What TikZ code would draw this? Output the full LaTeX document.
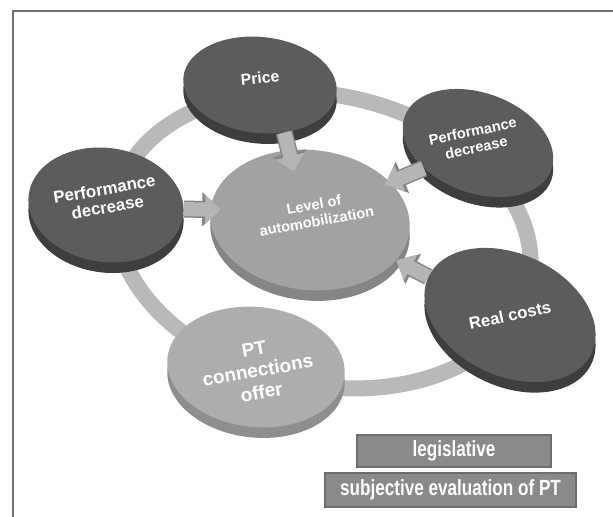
\documentclass[tikz,border=0pt]{standalone}
\usepackage{fontspec}
\setmainfont{Liberation Sans}
\newfontfamily\narrowfont[FakeStretch=0.78]{Liberation Sans}
\usepackage{tikz}
\usetikzlibrary{shapes.geometric}
\usetikzlibrary{shadows}
\usetikzlibrary{arrows.meta}
\definecolor{topdark}{HTML}{5C5C5C}
\definecolor{sidedark}{HTML}{3E3E3E}
\definecolor{toplevel}{HTML}{A2A2A2}
\definecolor{sidelevel}{HTML}{858585}
\definecolor{toppt}{HTML}{ADADAD}
\definecolor{sidept}{HTML}{8E8E8E}
\definecolor{ringc}{HTML}{B9B9B9}
\definecolor{arrowc}{HTML}{B5B5B5}
\definecolor{arrowedge}{HTML}{868686}
\definecolor{boxc}{HTML}{8A8A8A}
\definecolor{boxedge}{HTML}{6E6E6E}
\definecolor{framec}{HTML}{707070}
\tikzset{disc/.style={ellipse,inner sep=0pt,general shadow={fill=#1,shadow yshift=-6pt}},darkdisc/.style={disc=sidedark,fill=topdark},lbl/.style={text=white,align=center,inner sep=0pt},push/.style={draw=arrowc,line width=0.28cm,-{Triangle[width=0.56cm,length=0.32cm]},preaction={draw=arrowedge,line width=0.34cm,-{Triangle[width=0.66cm,length=0.38cm]}}},tag/.style={fill=boxc,draw=boxedge,line width=0.8pt,text=white,inner sep=0pt,font=\narrowfont\bfseries\fontsize{12.5}{14}\selectfont,drop shadow={shadow xshift=0.8pt,shadow yshift=-0.8pt,opacity=0.25}}}

\begin{document}
\begin{tikzpicture}[x=0.02cm,y=-0.02cm]
\useasboundingbox (0,0) rectangle (613,517);
\draw[framec,line width=0.9pt] (13,517) -- (13,11) -- (613,11);
\draw[ringc,line width=0.32cm,rotate around={-12:(323,240)}] (323,240) ellipse [x radius=210,y radius=145];
% discs
\node[darkdisc,minimum width=3.08cm,minimum height=1.92cm,rotate=-6] (price) at (260,85) {};
\node[darkdisc,minimum width=3.12cm,minimum height=2cm,rotate=-20] (perfr) at (478,143) {};
\node[darkdisc,minimum width=3.12cm,minimum height=2.28cm,rotate=-8] (perfl) at (106,205) {};
\node[disc=sidelevel,fill=toplevel,minimum width=4cm,minimum height=2.8cm,rotate=-6] (level) at (310,220) {};
\node[darkdisc,minimum width=3.6cm,minimum height=2.44cm,rotate=-25] (costs) at (510,315) {};
\node[disc=sidept,fill=toppt,minimum width=3.56cm,minimum height=2.4cm,rotate=-6] (ptc) at (256,367) {};
% arrows
\draw[push,shorten >=-0.45cm] (price.-57) -- (level.113);
\draw[push,shorten >=-0.22cm] (perfl.5) -- (level.180);
\draw[push,shorten >=-0.12cm] (perfr.225) -- (level.31);
\draw[push] (costs.180) -- (level.-19);
% labels
\node[lbl,font=\bfseries\fontsize{9}{10}\selectfont,rotate=6] (price-l) at ([yshift=4pt]price.center) {Price};
\node[lbl,font=\bfseries\fontsize{8.3}{9.5}\selectfont,rotate=12] (perfr-l) at ([xshift=-2pt,yshift=2pt]perfr.center) {Performance\\decrease};
\node[lbl,font=\bfseries\fontsize{9.6}{10.5}\selectfont,rotate=10] (perfl-l) at ([yshift=4pt]perfl.center) {Performance\\decrease};
\node[lbl,font=\bfseries\fontsize{8.3}{9.5}\selectfont,rotate=10] (level-l) at ([xshift=3pt,yshift=4pt]level.center) {Level of\\automobilization};
\node[lbl,font=\bfseries\fontsize{9.5}{11}\selectfont,rotate=12] (costs-l) at (costs.center) {Real costs};
\node[lbl,font=\bfseries\fontsize{10.8}{12.5}\selectfont,rotate=10] (ptc-l) at ([xshift=1pt,yshift=-2pt]ptc.center) {PT\\connections\\offer};
% boxes
\node[tag,minimum width=3.88cm,minimum height=0.64cm] (legis) at (454,451) {legislative};
\node[tag,minimum width=5.02cm,minimum height=0.68cm] (subj) at (450.5,490) {subjective evaluation of PT};
\end{tikzpicture}
\end{document}
